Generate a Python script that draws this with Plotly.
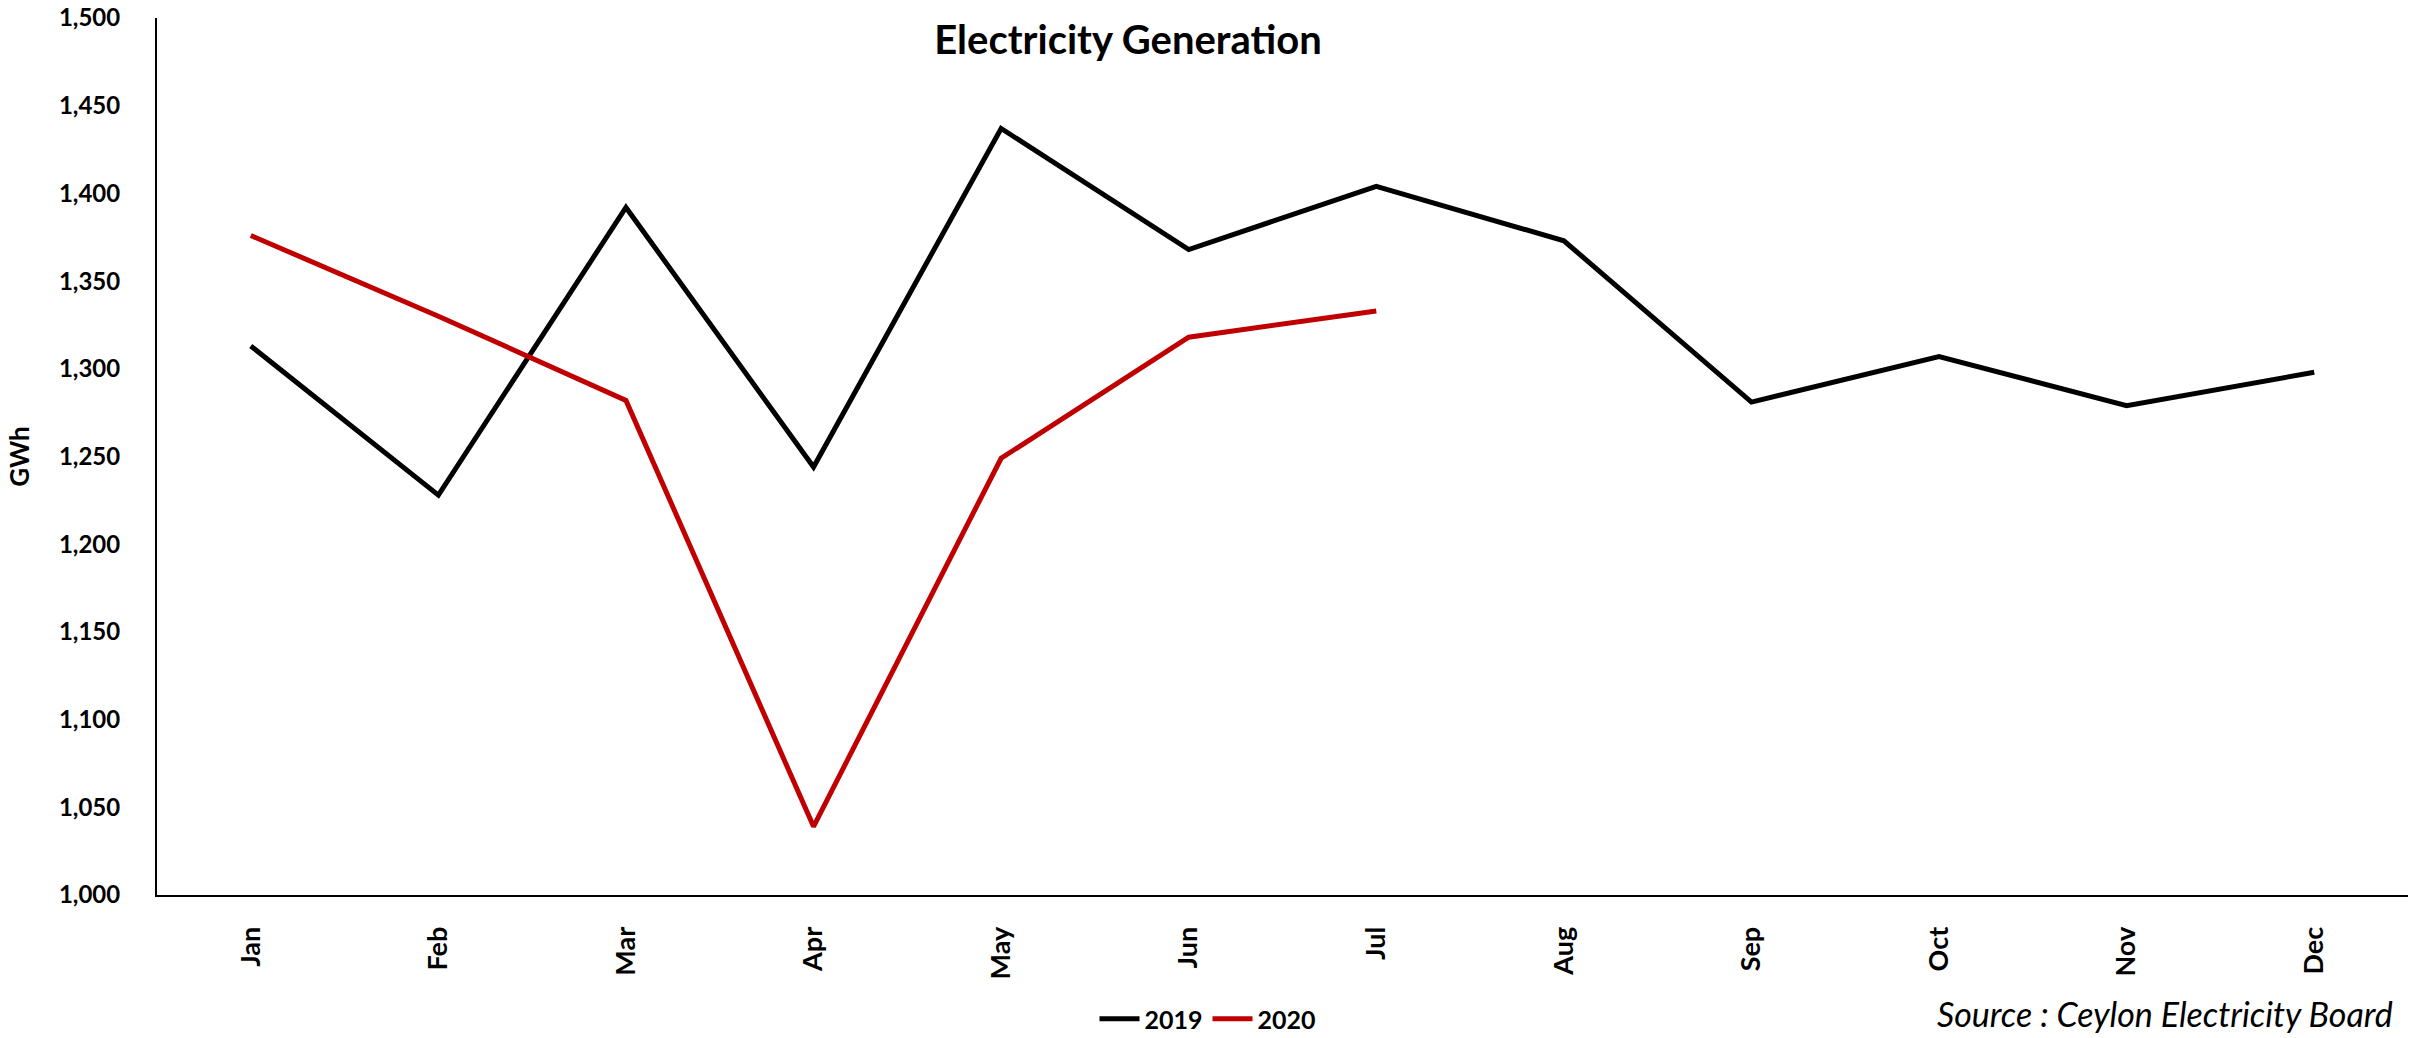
import plotly.graph_objects as go

months = ["Jan", "Feb", "Mar", "Apr", "May", "Jun", "Jul", "Aug", "Sep", "Oct", "Nov", "Dec"]
gen_2019 = [1313, 1228, 1392, 1244, 1437, 1368, 1404, 1373, 1281, 1307, 1279, 1298]
months_2020 = ["Jan", "Feb", "Mar", "Apr", "May", "Jun", "Jul"]
gen_2020 = [1376, 1330, 1282, 1039, 1249, 1318, 1333]
y_ticks = [1000, 1050, 1100, 1150, 1200, 1250, 1300, 1350, 1400, 1450, 1500]

FONT = "Lato"

fig = go.Figure()
fig.add_trace(go.Scatter(x=months, y=gen_2019, mode="lines", name="2019",
                         line=dict(color="#000000", width=5)))
fig.add_trace(go.Scatter(x=months_2020, y=gen_2020, mode="lines", name="2020",
                         line=dict(color="#C00000", width=5)))

W, H = 2425, 1038
L, R, T, B = 157, 17, 18, 143
pw, ph = W - L - R, H - T - B

fig.update_layout(
    width=W, height=H,
    margin=dict(l=L, r=R, t=T, b=B, autoexpand=False),
    paper_bgcolor="white", plot_bgcolor="white",
    font=dict(family=FONT, color="#000000"),
    title=dict(text="<b>Electricity Generation</b>", x=1128 / W, xanchor="center",
               y=1 - 40 / H, yanchor="middle", font=dict(size=40, family=FONT, color="#000000")),
    showlegend=True,
    legend=dict(orientation="h", x=1208 / W, xanchor="center", xref="container",
                y=1 - 1019 / H, yanchor="middle", yref="container",
                font=dict(size=25, family=FONT, color="#000000", weight="bold"),
                itemwidth=40, tracegroupgap=0),
    xaxis=dict(categoryorder="array", categoryarray=months,
               showline=True, linecolor="#000000", linewidth=2, showgrid=False,
               ticks="", tickangle=-90, ticklabelstandoff=19,
               tickfont=dict(size=27, family=FONT, color="#000000", weight="bold"),
               range=[-0.5, 11.5], zeroline=False),
    yaxis=dict(range=[1000, 1500], tickvals=y_ticks, tickformat=",d",
               showline=True, linecolor="#000000", linewidth=2, showgrid=False,
               ticks="", ticklabelstandoff=30, zeroline=False,
               tickfont=dict(size=24, family=FONT, color="#000000", weight="bold"),
               title=dict(text="<b>GWh</b>", standoff=22,
                          font=dict(size=26, family=FONT, color="#000000"))),
    annotations=[dict(text="<i>Source : Ceylon Electricity Board</i>", xref="paper", yref="paper",
                      x=(1935 - L) / pw, y=(T + ph - 1036) / ph, xanchor="left", yanchor="bottom",
                      showarrow=False, font=dict(size=34, family=FONT, color="#000000"))],
)

fig.write_html("out.html", config={"displayModeBar": False},
               post_script="document.body.style.margin='0px';")
